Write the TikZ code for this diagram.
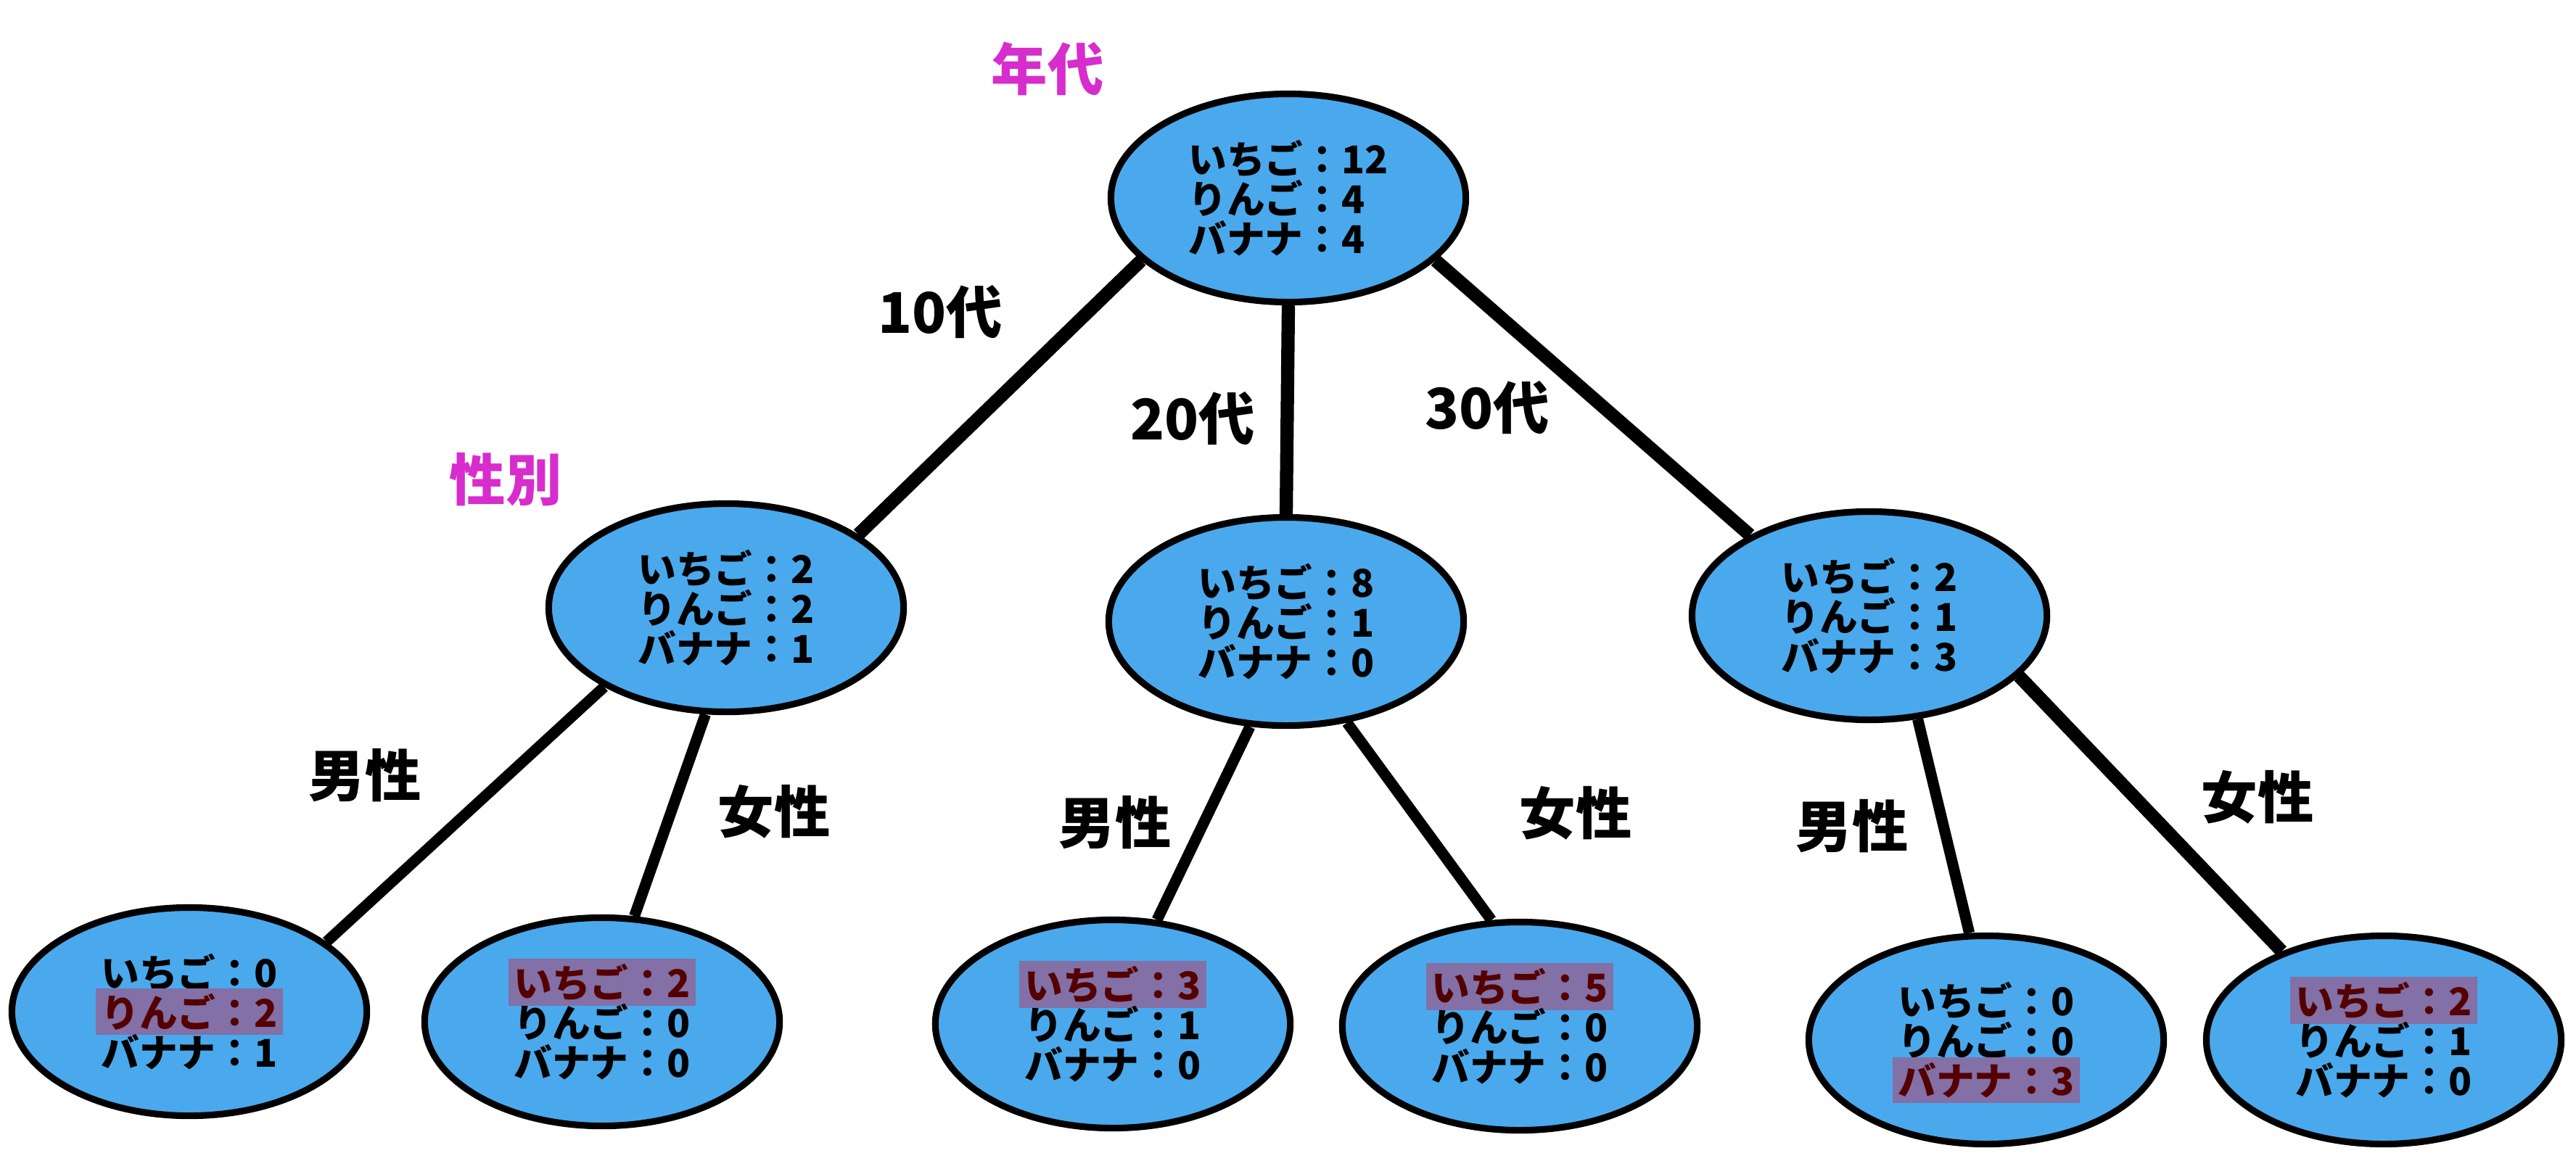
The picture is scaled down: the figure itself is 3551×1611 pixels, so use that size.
\documentclass[tikz,border=0pt]{standalone}
\usepackage{fontspec}
\setmainfont{Noto Sans CJK JP}
\usetikzlibrary{shapes.geometric,backgrounds}
\definecolor{nodeblue}{RGB}{74,169,236}
\definecolor{tagmag}{RGB}{215,45,205}
\definecolor{hlbg}{RGB}{130,112,166}
\definecolor{hltx}{RGB}{85,0,0}
\newcommand\hlt[1]{\leavevmode\smash{\makebox[0pt][l]{\hspace{-2pt}\setlength\fboxsep{2pt}\colorbox{hlbg}{\phantom{#1}}}}\textcolor{hltx}{#1}}
\tikzset{
  stat/.style={ellipse, draw=black, line width=2.6pt, fill=nodeblue,
    minimum width=4.89cm, minimum height=2.87cm, inner sep=0pt,
    align=left, font=\fontsize{15}{15.6}\selectfont\bfseries},
  elabel/.style={font=\fontsize{22}{22}\selectfont\bfseries, inner sep=0pt},
  tlabel/.style={elabel, text=tagmag},
  conn/.style={line width=5.2pt, line cap=butt},
  connthin/.style={line width=4.3pt, line cap=butt}
}
\begin{document}
\begin{tikzpicture}[x=0.01cm, y=-0.01cm]
\useasboundingbox (0,0) rectangle (3551,1611);
% nodes
\node[stat] (top) at (1776,273) {いちご：12\\りんご：4\\バナナ：4};
\node[stat] (L) at (1001,838) {いちご：2\\りんご：2\\バナナ：1};
\node[stat] (M) at (1773,857) {いちご：8\\りんご：1\\バナナ：0};
\node[stat] (R) at (2577,849) {いちご：2\\りんご：1\\バナナ：3};
\node[stat] (LL) at (261,1395) {いちご：0\\\hlt{りんご：2}\\バナナ：1};
\node[stat] (LR) at (830,1409) {\hlt{いちご：2}\\りんご：0\\バナナ：0};
\node[stat] (ML) at (1534,1412) {\hlt{いちご：3}\\りんご：1\\バナナ：0};
\node[stat] (MR) at (2095,1415) {\hlt{いちご：5}\\りんご：0\\バナナ：0};
\node[stat] (RL) at (2738,1434) {いちご：0\\りんご：0\\\hlt{バナナ：3}};
\node[stat] (RR) at (3286,1434) {\hlt{いちご：2}\\りんご：1\\バナナ：0};
% labels
\node[tlabel] (t1) at (1444,95) {年代};
\node[tlabel] (t2) at (697,661) {性別};
\node[elabel] (e1) at (1296,430) {10代};
\node[elabel] (e2) at (1644,577) {20代};
\node[elabel] (e3) at (2050,562) {30代};
\node[elabel] (e4) at (503,1069) {男性};
\node[elabel] (e5) at (1067,1119) {女性};
\node[elabel] (e6) at (1537,1134) {男性};
\node[elabel] (e7) at (2172,1121) {女性};
\node[elabel] (e8) at (2553,1139) {男性};
\node[elabel] (e9) at (3112,1099) {女性};
% connectors
\begin{scope}[on background layer]
\draw[conn] (top.203) -- (L.29);
\draw[conn] (top.south) -- (M.north);
\draw[conn] (top.337) -- (R.146);
\draw[connthin] (L.213.5) -- (LL.27.6);
\draw[connthin] (L.259) -- (LR.73);
\draw[connthin] (M.251.3) -- (ML.67);
\draw[connthin] (M.301) -- (MR.105);
\draw[connthin] (R.295.4) -- (RL.99.5);
\draw[conn] (R.338) -- (RR.139);
\end{scope}
\end{tikzpicture}
\end{document}
